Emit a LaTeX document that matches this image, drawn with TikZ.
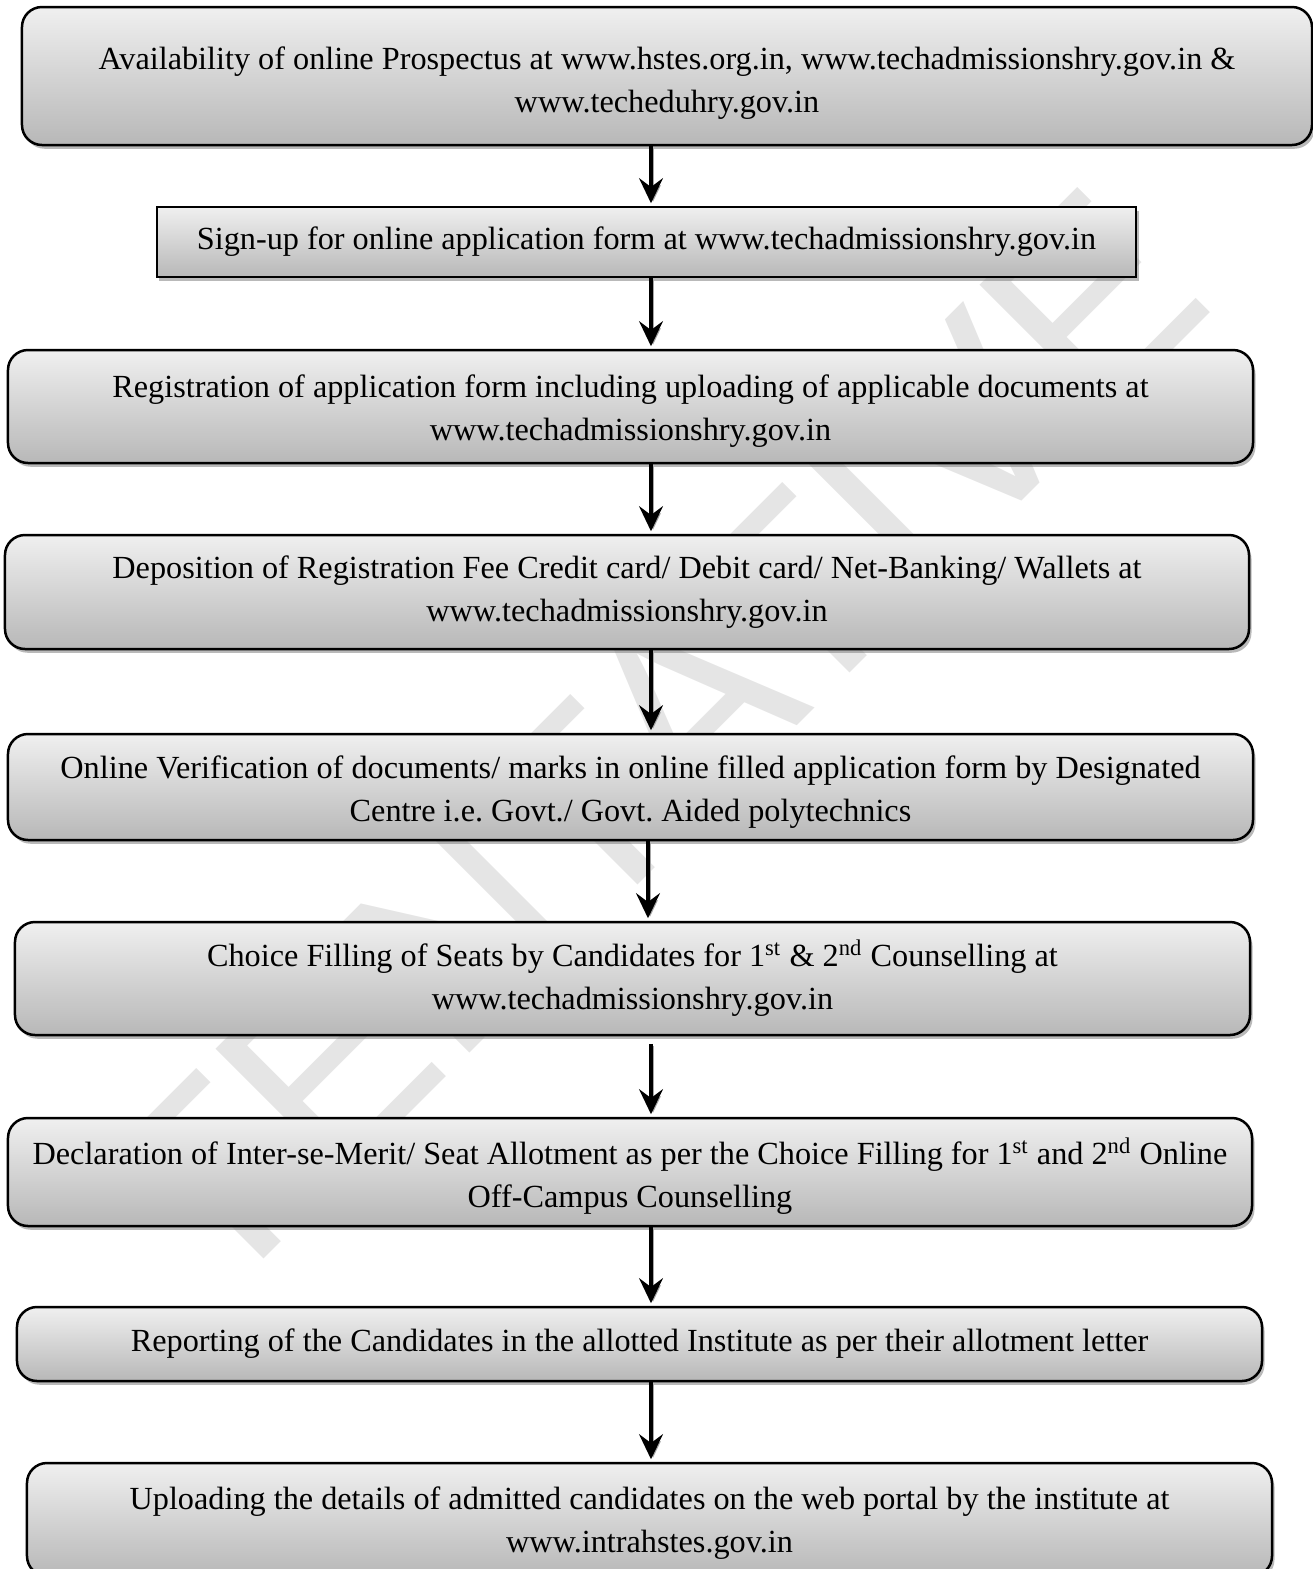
\documentclass[tikz,border=0pt]{standalone}
\usepackage{fontspec}
\setmainfont{Liberation Serif}
\newfontfamily\markfont{Liberation Sans}
\usetikzlibrary{arrows.meta,shadows}
\frenchspacing

% pushes a first line down inside its box
\newcommand{\lift}[1]{\rule{0pt}{#1}}

\tikzset{
  stepbox/.style={draw=black, line width=1pt, rounded corners=8pt,
    top color=black!6, bottom color=black!28,
    drop shadow={shadow xshift=1pt, shadow yshift=-1.5pt, opacity=.55},
    align=center, inner sep=0pt, font=\fontsize{12.9}{17.2}\selectfont},
  flow/.style={line width=1.6pt, shorten >=1pt, -{Stealth[length=10pt, width=9.5pt, inset=3.5pt]},
    preaction={draw=black!35, transform canvas={shift={(0.8pt,-0.8pt)}}}},
  wmark/.style={text=black!10, font=\markfont\fontsize{106}{106}\selectfont, inner sep=0pt}
}

\begin{document}
\begin{tikzpicture}[x=0.4pt, y=-0.4pt]

    \useasboundingbox (0,0) rectangle (1313,1569);

    % watermark behind the flow
    \node[wmark, rotate=45] (mark) at (652,742) {TENTATIVE};

            % Define the steps, top to bottom
            \node[stepbox, minimum width=516pt, minimum height=55.2pt] (s1) at (667,76)
                {\lift{14.8pt}Availability of online Prospectus at www.hstes.org.in, www.techadmissionshry.gov.in \&\\ www.techeduhry.gov.in};
            \node[stepbox, sharp corners, minimum width=391.6pt, minimum height=28pt] (s2) at (646.5,242)
                {Sign-up for online application form at www.techadmissionshry.gov.in};
            \node[stepbox, minimum width=498pt, minimum height=45.2pt] (s3) at (630.5,406.5)
                {\lift{12.5pt}Registration of application form including uploading of applicable documents at\\ www.techadmissionshry.gov.in};
            \node[stepbox, minimum width=497.6pt, minimum height=45.6pt] (s4) at (627,592)
                {Deposition of Registration Fee Credit card/ Debit card/ Net-Banking/ Wallets at\\ www.techadmissionshry.gov.in};
            \node[stepbox, minimum width=498pt, minimum height=42.4pt] (s5) at (630.5,787)
                {\lift{13.5pt}Online Verification of documents/ marks in online filled application form by Designated\\ Centre i.e. Govt./ Govt. Aided polytechnics};
            \node[stepbox, minimum width=494pt, minimum height=45.2pt] (s6) at (632.5,978.5)
                {Choice Filling of Seats by Candidates for 1\textsuperscript{st} \& 2\textsuperscript{nd} Counselling at\\ www.techadmissionshry.gov.in};
            \node[stepbox, minimum width=497.6pt, minimum height=43.2pt] (s7) at (630,1172)
                {\lift{14pt}Declaration of Inter-se-Merit/ Seat Allotment as per the Choice Filling for 1\textsuperscript{st} and 2\textsuperscript{nd} Online\\ Off-Campus Counselling};
            \node[stepbox, minimum width=498pt, minimum height=29.6pt] (s8) at (639.5,1344)
                {Reporting of the Candidates in the allotted Institute as per their allotment letter};
            \node[stepbox, minimum width=498pt, minimum height=45.2pt] (s9) at (649.5,1519.5)
                {\lift{12pt}Uploading the details of admitted candidates on the web portal by the institute at\\ www.intrahstes.gov.in};

    % arrows run down one line
    \coordinate (axis) at (651,0);
    \coordinate (axisb) at (648,0);

    \draw[flow] (s1.south -| axis) -- (s2.north -| axis);
    \draw[flow] (s2.south -| axis) -- (s3.north -| axis);
    \draw[flow] (s3.south -| axis) -- (s4.north -| axis);
    \draw[flow] (s4.south -| axis) -- (s5.north -| axis);
    \draw[flow] (s5.south -| axisb) -- (s6.north -| axisb);
    \draw[flow, shorten <=3pt] (s6.south -| axis) -- (s7.north -| axis);
    \draw[flow] (s7.south -| axis) -- (s8.north -| axis);
    \draw[flow] (s8.south -| axis) -- (s9.north -| axis);

\end{tikzpicture}
\end{document}
